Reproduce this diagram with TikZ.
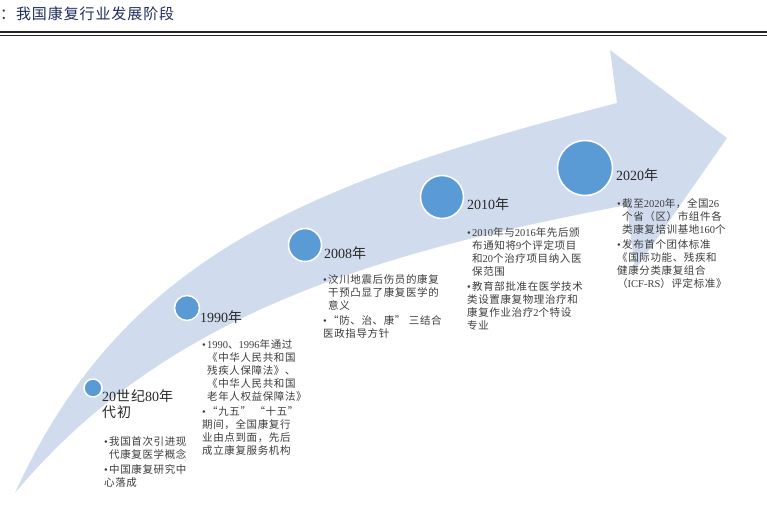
\documentclass[tikz,border=0pt]{standalone}
\usepackage{fontspec}
\setmainfont{Noto Sans CJK SC}[LetterSpace=6]
\newfontfamily\lat{Liberation Serif}
\usetikzlibrary{positioning}
\definecolor{arrowblue}{RGB}{208,220,238}
\definecolor{dotblue}{RGB}{91,155,213}
\definecolor{txtgray}{RGB}{60,60,60}
\definecolor{yeargray}{RGB}{40,40,40}
\definecolor{titlenavy}{RGB}{30,45,90}
\newcommand\latn[1]{{\lat #1}}
\newcommand\itm{\par\noindent\hangindent=5pt\hangafter=1\makebox[5pt][l]{\lat •}}

\begin{document}
\begin{tikzpicture}[x=1pt, y=-1pt,
    dot/.style={circle, fill=dotblue, draw=white, line width=1.5pt, inner sep=0pt},
    yearlbl/.style={anchor=west, inner sep=0pt, align=left, text=yeargray,
      font=\fontsize{14}{16}\selectfont},
    note/.style={anchor=north west, inner sep=0pt, text width=135pt, align=left, text=txtgray,
      font=\fontsize{10.5}{13}\selectfont\setlength\parskip{2pt}}
  ]
  \useasboundingbox (0,0) rectangle (767,511);

  % title and double rule
  \node[anchor=west, inner sep=0pt, text=titlenavy, font=\fontsize{15}{18}\selectfont]
    (title) at (0,14) {：我国康复行业发展阶段};
  \draw[line width=1.6pt, black!85] (0,32.3) -- (767,32.3);
  \draw[line width=0.6pt, black!85] (0,35) -- (767,35);

  % curved arrow
  \fill[arrowblue] (15,493) .. controls (125,251) and (317,181) .. (617,103)
    -- (610,50) -- (727,138) -- (635,270) -- (627,205)
    .. controls (377,252.5) and (165,313) .. (15,493) -- cycle;

  % milestones
  \node[dot, minimum size=18pt] (c80)   at (93,388)  {};
  \node[dot, minimum size=25pt] (c1990) at (187,308) {};
  \node[dot, minimum size=33pt] (c2008) at (305,245) {};
  \node[dot, minimum size=43pt] (c2010) at (442,197) {};
  \node[dot, minimum size=55pt] (c2020) at (585,168) {};

  \node[yearlbl, anchor=north west] (y80) at (102,389) {\latn{20}世纪\latn{80}年\\代初};
  \node[yearlbl] (y1990) at (200,317) {\latn{1990}年};
  \node[yearlbl] (y2008) at (324,253) {\latn{2008}年};
  \node[yearlbl] (y2010) at (467,204) {\latn{2010}年};
  \node[yearlbl] (y2020) at (616,175) {\latn{2020}年};

  \node[note] (t80) at (104,430) {%
    \itm 我国首次引进现\newline 代康复医学概念
    \itm 中国康复研究中\newline 心落成};
  \node[note] (t1990) at (202,333) {%
    \itm \latn{1990}、\latn{1996}年通过\newline 《中华人民共和国\newline 残疾人保障法》、\newline 《中华人民共和国\newline 老年人权益保障法》
    \itm “九五” “十五”\newline 期间，全国康复行\newline 业由点到面，先后\newline 成立康复服务机构};
  \node[note] (t2008) at (323,268) {%
    \itm 汶川地震后伤员的康复\newline 干预凸显了康复医学的\newline 意义
    \itm “防、治、康” 三结合\newline 医政指导方针};
  \node[note] (t2010) at (467,221) {%
    \itm \latn{2010}年与\latn{2016}年先后颁\newline 布通知将\latn{9}个评定项目\newline 和\latn{20}个治疗项目纳入医\newline 保范围
    \itm 教育部批准在医学技术\newline 类设置康复物理治疗和\newline 康复作业治疗\latn{2}个特设\newline 专业};
  \node[note] (t2020) at (617,192) {%
    \itm 截至\latn{2020}年，全国\latn{26}\newline 个省（区）市组件各\newline 类康复培训基地\latn{160}个
    \itm 发布首个团体标准\newline 《国际功能、残疾和\newline 健康分类康复组合\newline （\latn{ICF-RS}）评定标准》};
\end{tikzpicture}
\end{document}
